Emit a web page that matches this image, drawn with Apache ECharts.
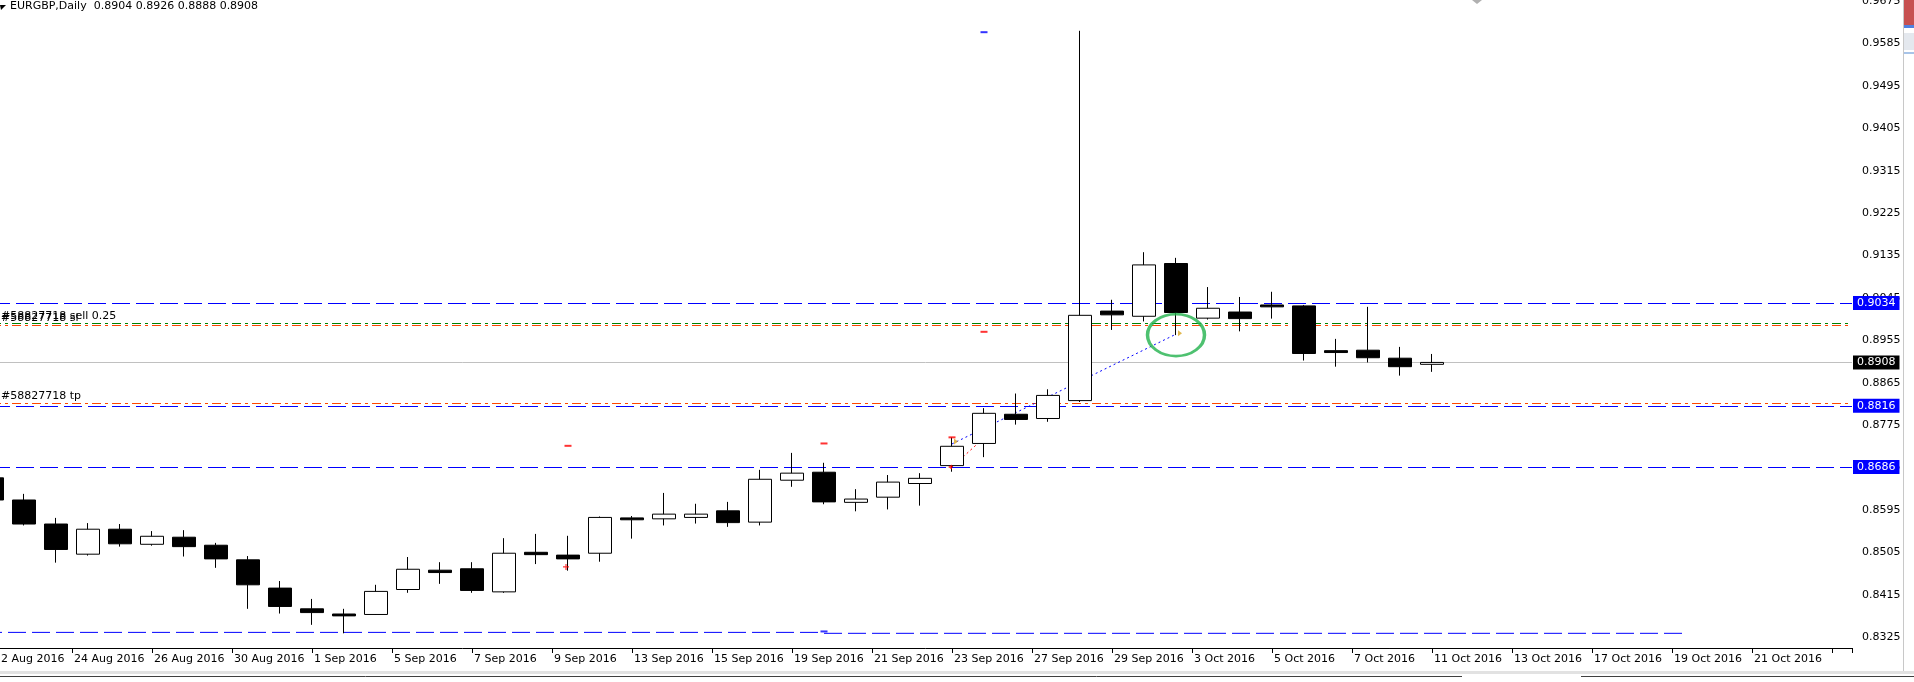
<!DOCTYPE html>
<html>
<head>
<meta charset="utf-8">
<title>EURGBP,Daily</title>
<script src="https://cdn.jsdelivr.net/npm/echarts@6/dist/echarts.min.js"></script>
<style>
html, body { margin: 0; padding: 0; background: #fff; }
#chart { width: 1914px; height: 682px; }
</style>
</head>
<body>
<div id="chart"></div>
<script>
// daily bars, broker time (sunday bars included)
var dates = [
  '2016.08.19', '2016.08.21', '2016.08.22', '2016.08.23', '2016.08.24', '2016.08.25', '2016.08.26', '2016.08.28',
  '2016.08.29', '2016.08.30', '2016.08.31', '2016.09.01', '2016.09.02', '2016.09.04', '2016.09.05', '2016.09.06',
  '2016.09.07', '2016.09.08', '2016.09.09', '2016.09.11', '2016.09.12', '2016.09.13', '2016.09.14', '2016.09.15',
  '2016.09.16', '2016.09.18', '2016.09.19', '2016.09.20', '2016.09.21', '2016.09.22', '2016.09.23', '2016.09.25',
  '2016.09.26', '2016.09.27', '2016.09.28', '2016.09.29', '2016.09.30', '2016.10.02', '2016.10.03', '2016.10.04',
  '2016.10.05', '2016.10.06', '2016.10.07', '2016.10.09', '2016.10.10', '2016.10.11'
];
var opens = [
  0.8663, 0.8616, 0.8565, 0.8501, 0.8554, 0.8522, 0.8537, 0.8520, 0.8489, 0.8429,
  0.8385, 0.8374, 0.8373, 0.8426, 0.8467, 0.8470, 0.8421, 0.8505, 0.8499, 0.8503,
  0.8578, 0.8576, 0.8579, 0.8593, 0.8569, 0.8658, 0.8675, 0.8611, 0.8622, 0.8651,
  0.8689, 0.8736, 0.8798, 0.8789, 0.8827, 0.9017, 0.9006, 0.9118, 0.9002, 0.9015,
  0.9030, 0.9028, 0.8933, 0.8934, 0.8917, 0.8904
];
var highs = [
  0.8668, 0.8629, 0.8578, 0.8567, 0.8565, 0.8550, 0.8552, 0.8525, 0.8497, 0.8444,
  0.8406, 0.8385, 0.8436, 0.8495, 0.8484, 0.8484, 0.8535, 0.8544, 0.8540, 0.8581,
  0.8582, 0.8631, 0.8608, 0.8612, 0.8680, 0.8716, 0.8695, 0.8639, 0.8669, 0.8673,
  0.8749, 0.8811, 0.8842, 0.8851, 0.9612, 0.9041, 0.9142, 0.9130, 0.9068, 0.9047,
  0.9058, 0.9030, 0.8958, 0.9026, 0.8941, 0.8926
];
var lows = [
  0.8610, 0.8562, 0.8483, 0.8498, 0.8517, 0.8519, 0.8496, 0.8472, 0.8385, 0.8375,
  0.8351, 0.8333, 0.8372, 0.8419, 0.8438, 0.8419, 0.8419, 0.8480, 0.8466, 0.8485,
  0.8534, 0.8562, 0.8566, 0.8559, 0.8562, 0.8644, 0.8607, 0.8592, 0.8596, 0.8604,
  0.8676, 0.8707, 0.8776, 0.8782, 0.8824, 0.8977, 0.8995, 0.8966, 0.8999, 0.8974,
  0.9001, 0.8912, 0.8899, 0.8908, 0.8880, 0.8888
];
var closes = [
  0.8616, 0.8565, 0.8511, 0.8554, 0.8523, 0.8539, 0.8517, 0.8491, 0.8436, 0.8390,
  0.8377, 0.8370, 0.8422, 0.8469, 0.8462, 0.8424, 0.8503, 0.8500, 0.8491, 0.8579,
  0.8574, 0.8586, 0.8586, 0.8568, 0.8660, 0.8673, 0.8612, 0.8618, 0.8654, 0.8662,
  0.8730, 0.8800, 0.8787, 0.8838, 0.9008, 0.9009, 0.9115, 0.9014, 0.9023, 0.9001,
  0.9026, 0.8927, 0.8929, 0.8918, 0.8899, 0.8908
];

// time scale labels, one every 2.5 bars
var xLabels = [
  '22 Aug 2016', '24 Aug 2016', '26 Aug 2016', '30 Aug 2016', '1 Sep 2016', '5 Sep 2016',
  '7 Sep 2016', '9 Sep 2016', '13 Sep 2016', '15 Sep 2016', '19 Sep 2016', '21 Sep 2016',
  '23 Sep 2016', '27 Sep 2016', '29 Sep 2016', '3 Oct 2016', '5 Oct 2016', '7 Oct 2016',
  '11 Oct 2016', '13 Oct 2016', '17 Oct 2016', '19 Oct 2016', '21 Oct 2016'
];
var yTicks = [
  0.8325, 0.8415, 0.8505, 0.8595, 0.8685, 0.8775, 0.8865, 0.8955,
  0.9045, 0.9135, 0.9225, 0.9315, 0.9405, 0.9495, 0.9585, 0.9675
];

// horizontal levels
var hLines = [0.9034, 0.8816, 0.8686];
var bid = 0.8908;
var orderOpen = 0.8991;
var orderSl = 0.8987;
var orderTp = 0.8821;
var orderTicket = '#58827718';

// other objects: [bar, price]
var lowLineA = [[-1, 0.8335], [26, 0.8335]];
var lowLineB = [[26, 0.8333], [53, 0.8333]];
var buyTrade = [[30, 0.8735], [37, 0.8968]];
var sellTrade = [[30, 0.8686], [31, 0.8748]];
var redDashes = [[18, 0.8731], [26, 0.8736], [31, 0.8973], [30, 0.8749]];
var blueDashes = [[31, 0.9609], [26, 0.8337]];
var redCross = [[18, 0.8474]];
var goldArrows = [[30, 0.8740], [37, 0.8970]];
var redArrow = [[30, 0.8686]];
var circled = [[37, 0.8966]];

var FONT = 'DejaVu Sans';
var BLUE = '#0000ff';
var DASH = [18, 6];
var DASHDOT = [9, 4, 3, 4];

var candles = dates.map(function (d, i) {
  return [i, opens[i], closes[i], lows[i], highs[i]];
});
var last = dates.length - 1;
var header = 'EURGBP,Daily  ' + [opens[last], highs[last], lows[last], closes[last]].map(function (v) {
  return v.toFixed(4);
}).join(' ');

function tagLabel(bg, v) {
  return {
    show: true,
    position: 'end',
    distance: 1,
    formatter: v.toFixed(4),
    backgroundColor: bg,
    color: '#fff',
    fontFamily: FONT,
    fontSize: 11,
    lineHeight: 12,
    padding: [1, 4, 1, 4]
  };
}
function noteLabel(text) {
  return {
    show: true,
    position: 'insideStartTop',
    distance: [9, 2],
    formatter: text,
    color: '#000',
    fontFamily: FONT,
    fontSize: 11
  };
}

var levelData = [];
hLines.forEach(function (v) {
  levelData.push({ yAxis: v, lineStyle: { color: BLUE, type: DASH, width: 1 }, label: tagLabel(BLUE, v) });
});
levelData.push({ yAxis: bid, lineStyle: { color: '#c0c0c0', type: 'solid', width: 1 }, label: tagLabel('#000', bid) });
levelData.push({ yAxis: orderOpen, lineStyle: { color: '#008000', type: DASHDOT, width: 1 }, label: noteLabel(orderTicket + ' sell 0.25') });
levelData.push({ yAxis: orderSl, lineStyle: { color: '#ff4500', type: DASHDOT, width: 1 }, label: noteLabel(orderTicket + ' sl') });
levelData.push({ yAxis: orderTp, lineStyle: { color: '#ff4500', type: DASHDOT, width: 1 }, label: noteLabel(orderTicket + ' tp') });

var chart = echarts.init(document.getElementById('chart'), null, { renderer: 'canvas' });
chart.setOption({
  animation: false,
  backgroundColor: '#fff',
  title: {
    text: header,
    left: 10,
    top: 1,
    padding: 0,
    textStyle: { fontFamily: FONT, fontSize: 11, fontWeight: 'normal', color: '#000' }
  },
  grid: { left: -8, right: 62, top: 0, bottom: 34, containLabel: false, outerBoundsMode: 'none' },
  xAxis: {
    type: 'value',
    min: 0,
    max: 58.125,
    interval: 2.5,
    axisLine: { lineStyle: { color: '#000', width: 1 } },
    axisTick: { length: 5, lineStyle: { color: '#000' } },
    splitLine: { show: false },
    axisLabel: {
      color: '#000',
      fontFamily: FONT,
      fontSize: 11,
      align: 'left',
      padding: [0, 0, 0, 2],
      margin: 6,
      showMinLabel: true,
      showMaxLabel: true,
      formatter: function (v) {
        var k = Math.round(v / 2.5);
        if (Math.abs(v - k * 2.5) > 1e-6) return '';
        return xLabels[k] || '';
      }
    }
  },
  yAxis: {
    type: 'value',
    position: 'right',
    min: 0.830184,
    max: 0.967734,
    axisLine: { show: true, lineStyle: { color: '#000', width: 1 } },
    axisTick: { show: true, length: 3, customValues: yTicks, lineStyle: { color: '#000' } },
    splitLine: { show: false },
    axisLabel: {
      customValues: yTicks,
      margin: 10,
      color: '#000',
      fontFamily: FONT,
      fontSize: 11,
      formatter: function (v) { return v.toFixed(4); }
    }
  },
  series: [
    {
      name: 'levels',
      type: 'line',
      data: [],
      z: 1,
      silent: true,
      markLine: { z: 1, symbol: ['none', 'none'], precision: 4, silent: true, animation: false, data: levelData }
    },
    {
      name: 'low line a', type: 'line', data: lowLineA, z: 1, silent: true, showSymbol: false,
      lineStyle: { color: BLUE, type: DASH, width: 1 }
    },
    {
      name: 'low line b', type: 'line', data: lowLineB, z: 1, silent: true, showSymbol: false,
      lineStyle: { color: BLUE, type: DASH, width: 1 }
    },
    {
      name: 'buy', type: 'line', data: buyTrade, z: 1, silent: true, showSymbol: false,
      lineStyle: { color: BLUE, type: [2, 3], width: 1 }
    },
    {
      name: 'sell', type: 'line', data: sellTrade, z: 1, silent: true, showSymbol: false,
      lineStyle: { color: '#ff0000', type: [2, 3], width: 1 }
    },
    {
      name: 'EURGBP',
      type: 'candlestick',
      data: candles,
      z: 3,
      barWidth: 24,
      itemStyle: {
        color: '#ffffff',
        color0: '#000000',
        borderColor: '#000000',
        borderColor0: '#000000',
        borderWidth: 1
      }
    },
    {
      name: 'sl marks', type: 'scatter', data: redDashes, z: 4, silent: true,
      symbol: 'rect', symbolSize: [7, 2], itemStyle: { color: '#ff0000' }
    },
    {
      name: 'tp marks', type: 'scatter', data: blueDashes, z: 4, silent: true,
      symbol: 'rect', symbolSize: [7, 2], itemStyle: { color: BLUE }
    },
    {
      name: 'cross', type: 'scatter', data: redCross, z: 4, silent: true,
      symbol: 'path://M0,2H5V3H0ZM2,0H3V5H2Z', symbolSize: 6, symbolOffset: [-2, 0],
      itemStyle: { color: '#ff0000' }
    },
    {
      name: 'close arrows', type: 'scatter', data: goldArrows, z: 4, silent: true,
      symbol: 'triangle', symbolRotate: -90, symbolSize: [6, 4], symbolOffset: [4, 0],
      itemStyle: { color: '#daa520' }
    },
    {
      name: 'open arrow', type: 'scatter', data: redArrow, z: 4, silent: true,
      symbol: 'triangle', symbolRotate: 90, symbolSize: [5, 4], symbolOffset: [-2, 0],
      itemStyle: { color: '#ff0000' }
    },
    {
      name: 'ellipse', type: 'scatter', data: circled, z: 10, silent: true,
      symbol: 'circle', symbolSize: [57, 42],
      itemStyle: { color: 'rgba(0,0,0,0)', borderColor: '#22b14c', borderWidth: 3 }
    }
  ],
  graphic: [
    { type: 'polygon', shape: { points: [[0, 5], [6, 5], [1, 10]] }, style: { fill: '#000' }, silent: true },
    { type: 'polygon', shape: { points: [[1472, 0], [1482, 0], [1477, 4]] }, style: { fill: '#b0b0b0' }, silent: true },
    { type: 'rect', shape: { x: 1903, y: 0, width: 1, height: 674 }, style: { fill: '#c8c8c8' }, silent: true },
    { type: 'rect', shape: { x: 1904, y: 0, width: 10, height: 25 }, style: { fill: '#c75050' }, silent: true },
    { type: 'rect', shape: { x: 1904, y: 25, width: 10, height: 3 }, style: { fill: '#5080e0' }, silent: true },
    { type: 'rect', shape: { x: 1904, y: 33, width: 10, height: 17 }, style: { fill: '#e4e8ee' }, silent: true },
    { type: 'rect', shape: { x: 1904, y: 52, width: 10, height: 2 }, style: { fill: '#a8c4e8' }, silent: true },
    { type: 'rect', shape: { x: 0, y: 671, width: 1914, height: 3 }, style: { fill: '#e2e2e2' }, silent: true },
    { type: 'line', shape: { x1: 0, y1: 676.5, x2: 1462, y2: 676.5 }, style: { stroke: '#404040', lineWidth: 1 }, silent: true },
    { type: 'line', shape: { x1: 1581, y1: 676.5, x2: 1914, y2: 676.5 }, style: { stroke: '#404040', lineWidth: 1 }, silent: true }
  ]
});
</script>
</body>
</html>
